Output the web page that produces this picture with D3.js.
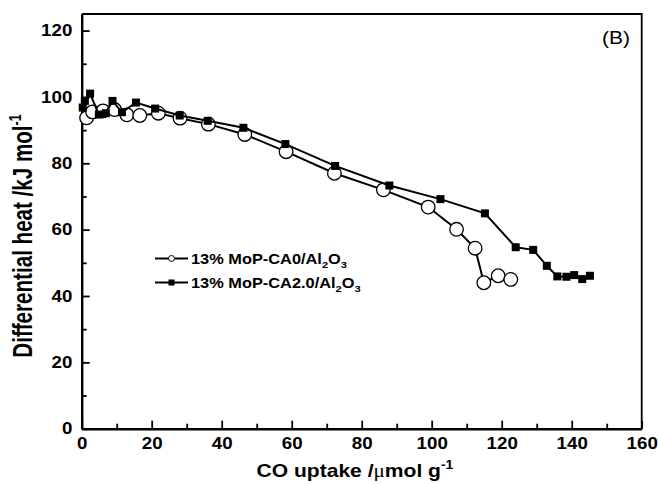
<!DOCTYPE html>
<html>
<head>
<meta charset="utf-8">
<script src="https://cdn.jsdelivr.net/npm/d3@7"></script>
<style>
  html, body { margin: 0; padding: 0; background: #fff; }
  svg { display: block; }
  text { font-family: "Liberation Sans", Arial, Helvetica, sans-serif; fill: #000; }
</style>
</head>
<body>
<svg id="chart" width="658" height="484"></svg>
<script>
// Differential heat of CO adsorption vs CO uptake
const seriesNames = ["13% MoP-CA0/Al2O3", "13% MoP-CA2.0/Al2O3"];

// 13% MoP-CA0/Al2O3 (open circles)
const uptakeCA0 = [1.4, 3.1, 6.1, 9.4, 12.9, 16.6, 21.9, 28.1, 36.2, 46.6, 58.4, 72.2, 86.2, 99.0, 107.1, 112.4, 114.9, 119.0, 122.6];
const heatCA0   = [93.7, 95.5, 95.8, 96.2, 94.6, 94.4, 95.1, 93.6, 91.8, 88.7, 83.5, 77.0, 72.0, 66.8, 60.1, 54.4, 44.0, 46.1, 45.0];

// 13% MoP-CA2.0/Al2O3 (filled squares)
const uptakeCA20 = [0.3, 0.9, 2.4, 4.9, 6.9, 8.8, 11.5, 15.5, 21.0, 28.0, 36.0, 46.2, 58.2, 72.4, 87.9, 102.5, 115.2, 124.0, 129.0, 132.9, 135.9, 138.5, 140.7, 143.0, 145.2];
const heatCA20   = [96.8, 98.8, 101.0, 94.7, 95.1, 98.8, 95.4, 98.3, 96.5, 94.4, 92.8, 90.7, 85.8, 79.2, 73.3, 69.2, 64.9, 54.7, 53.9, 49.1, 45.9, 45.8, 46.3, 45.1, 46.1];

const xTicks = [0, 20, 40, 60, 80, 100, 120, 140, 160];
const xMinorTicks = [10, 30, 50, 70, 90, 110, 130, 150];
const yTicks = [0, 20, 40, 60, 80, 100, 120];
const yMinorTicks = [10, 30, 50, 70, 90, 110];

const plot = { left: 81.7, right: 641.7, top: 14, bottom: 428.7 };
const SX = 1.17; // horizontal glyph stretch of the lettering

const svg = d3.select("#chart");

const x = d3.scaleLinear().domain([0, 160]).range([plot.left, plot.right]);
const y = d3.scaleLinear().domain([0, 125]).range([plot.bottom, plot.top]);

// frame (top and right edges)
svg.append("path")
  .attr("d", `M${plot.left},${plot.top}H${plot.right}V${plot.bottom}`)
  .attr("fill", "none").attr("stroke", "#000").attr("stroke-width", 1.8);

function styleAxis(g) {
  g.select(".domain").attr("stroke-width", 2.4);
  g.selectAll(".tick line").attr("stroke-width", 1.8);
  g.selectAll("text")
    .attr("font-size", 16).attr("font-weight", "bold")
    .attr("font-family", "'Liberation Sans', Arial, sans-serif")
    .attr("transform", `scale(${SX},1)`);
}

// minor ticks
svg.append("g").attr("transform", `translate(0,${plot.bottom})`)
  .call(d3.axisBottom(x).tickValues(xMinorTicks).tickSize(-5).tickFormat(""))
  .call(g => { g.select(".domain").remove(); g.selectAll(".tick line").attr("stroke-width", 1.8); });
svg.append("g").attr("transform", `translate(${plot.left},0)`)
  .call(d3.axisLeft(y).tickValues(yMinorTicks).tickSize(-5).tickFormat(""))
  .call(g => { g.select(".domain").remove(); g.selectAll(".tick line").attr("stroke-width", 1.8); });

// major axes
svg.append("g").attr("transform", `translate(0,${plot.bottom})`)
  .call(d3.axisBottom(x).tickValues(xTicks).tickSize(-8).tickSizeOuter(0).tickPadding(9).tickFormat(d3.format("d")))
  .call(styleAxis);
svg.append("g").attr("transform", `translate(${plot.left},0)`)
  .call(d3.axisLeft(y).tickValues(yTicks).tickSize(-8).tickSizeOuter(0).tickPadding(8).tickFormat(d3.format("d")))
  .call(styleAxis);

// series
const lineGen = d3.line().x(d => x(d[0])).y(d => y(d[1]));
const ca0 = uptakeCA0.map((v, i) => [v, heatCA0[i]]);
const ca20 = uptakeCA20.map((v, i) => [v, heatCA20[i]]);

const g0 = svg.append("g");
g0.append("path").datum(ca0).attr("d", lineGen)
  .attr("fill", "none").attr("stroke", "#000").attr("stroke-width", 2);
g0.selectAll("circle").data(ca0).join("circle")
  .attr("cx", d => x(d[0])).attr("cy", d => y(d[1])).attr("r", 6.8)
  .attr("fill", "#fff").attr("stroke", "#000").attr("stroke-width", 1.3);

const g1 = svg.append("g");
g1.append("path").datum(ca20).attr("d", lineGen)
  .attr("fill", "none").attr("stroke", "#000").attr("stroke-width", 2);
const sq = 8;
g1.selectAll("rect").data(ca20).join("rect")
  .attr("x", d => x(d[0]) - sq / 2).attr("y", d => y(d[1]) - sq / 2)
  .attr("width", sq).attr("height", sq).attr("fill", "#000");

// text helper: label anchored at (px,py), stretched horizontally
function label(px, py, opts = {}) {
  const sx = opts.sx || SX;
  const g = svg.append("g")
    .attr("transform", `translate(${px},${py}) scale(${sx},1)${opts.rotate ? ` rotate(${opts.rotate})` : ""}`);
  return g.append("text")
    .attr("text-anchor", opts.anchor || "start")
    .attr("font-size", opts.size || 14)
    .attr("font-weight", opts.weight || "bold");
}

// chemical formula with subscripted Al2O3
function formula(t, str, size) {
  const m = str.match(/^(.*Al)2O3$/);
  t.append("tspan").text(m[1]);
  t.append("tspan").attr("font-size", size * 0.68).attr("dy", size * 0.3).text("2");
  t.append("tspan").attr("dy", -size * 0.3).text("O");
  t.append("tspan").attr("font-size", size * 0.68).attr("dy", size * 0.3).text("3");
}

// legend
const legendRows = [
  { name: seriesNames[0], y: 258.5, marker: "circle" },
  { name: seriesNames[1], y: 282.5, marker: "square" }
];
legendRows.forEach(r => {
  svg.append("line").attr("x1", 155).attr("x2", 188).attr("y1", r.y).attr("y2", r.y)
    .attr("stroke", "#000").attr("stroke-width", 2);
  if (r.marker === "circle") {
    svg.append("circle").attr("cx", 171.5).attr("cy", r.y).attr("r", 3)
      .attr("fill", "#fff").attr("stroke", "#000").attr("stroke-width", 1);
  } else {
    svg.append("rect").attr("x", 168.5).attr("y", r.y - 3).attr("width", 6).attr("height", 6).attr("fill", "#000");
  }
  const t = label(191, r.y + 5, { size: 14 });
  formula(t, r.name, 14);
});

// panel tag
label(602, 44, { size: 18, weight: "normal" }).text("(B)");

// axis titles
const xt = label(355, 477, { anchor: "middle", size: 18 });
xt.append("tspan").text("CO uptake /");
xt.append("tspan").attr("font-family", "'Liberation Serif', 'Times New Roman', serif").attr("font-weight", "normal").text("μ");
xt.append("tspan").text("mol g");
xt.append("tspan").attr("font-size", 12).attr("dy", -8).text("-1");

const yt = label(32, 236, { anchor: "middle", size: 20.6, rotate: -90, sx: 1.3 });
yt.append("tspan").text("Differential heat /kJ mol");
yt.append("tspan").attr("font-size", 12.5).attr("dy", -8.5).text("-1");
</script>
</body>
</html>
